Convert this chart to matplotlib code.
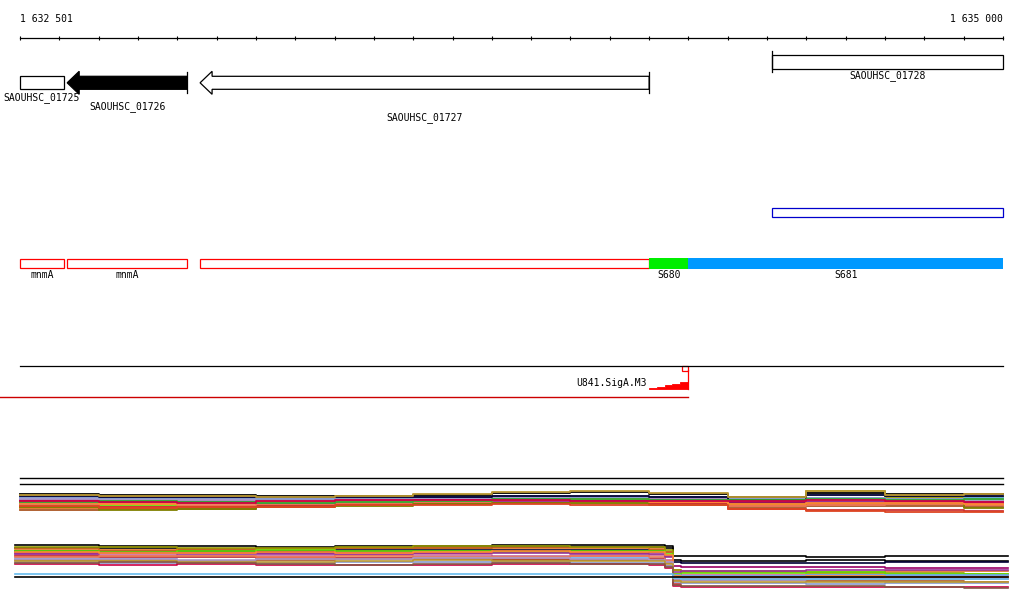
import matplotlib
matplotlib.use("Agg")
import matplotlib.pyplot as plt
from matplotlib.patches import Polygon, Rectangle
import numpy as np

# view: 1 632 501 .. 1 635 000, ruler drawn 20..1003 px
BP = 2500 / 983.0          # bp per pixel
X0 = 1632500 - 20 * BP
X1 = X0 + 1024 * BP

ruler_ticks = list(range(1632500, 1635001, 100))
ruler_labels = ["1 632 501", "1 635 000"]

# CDS track
gene_names = ["SAOUHSC_01725", "SAOUHSC_01726", "SAOUHSC_01727", "SAOUHSC_01728"]
gene_start = [1632500, 1632620, 1632958, 1634412]
gene_end = [1632612, 1632925, 1634100, 1635000]
gene_strand = [0, -1, -1, 1]
gene_fill = ["white", "black", "white", "white"]

# transcription units / RNA segments
tu_names = ["mnmA", "mnmA", "", "S680", "S681"]
tu_start = [1632500, 1632620, 1632958, 1634100, 1634200]
tu_end = [1632612, 1632925, 1634100, 1634200, 1635000]
tu_face = [None, None, None, "#00ee00", "#0099ff"]

# promoter U841.SigA.M3
prom_name = "U841.SigA.M3"
prom_pos = 1634198
ramp_start = 1634100
ramp_h = [1.0, 2.5, 4.0, 5.5, 7.0]

# expression profiles, upper condition group (row level, grid every 200 bp)
up_x = [1632500, 1632700, 1632900, 1633100, 1633300, 1633500, 1633700,
        1633900, 1634100, 1634300, 1634500, 1634700, 1634900, 1635000]
up_vals = [
    [494, 495, 495, 496, 496, 495, 493, 492, 494, 497, 493, 494, 494, 494],
    [508, 507, 506, 506, 505, 504, 503, 503, 503, 505, 504, 504, 505, 505],
    [502, 503, 502, 501, 500, 499, 497, 497, 498, 500, 491, 497, 497, 497],
    [501, 500, 499, 500, 499, 500, 499, 500, 500, 502, 501, 502, 501, 501],
    [498, 499, 499, 498, 498, 499, 498, 498, 497, 499, 498, 499, 498, 498],
    [504, 505, 503, 502, 503, 501, 500, 500, 501, 502, 500, 500, 500, 500],
    [500, 501, 501, 502, 501, 500, 500, 499, 499, 503, 502, 503, 503, 503],
    [510, 509, 509, 506, 505, 503, 502, 502, 504, 507, 506, 506, 507, 507],
    [506, 507, 507, 505, 504, 503, 502, 501, 503, 509, 510, 510, 511, 511],
    [505, 504, 505, 504, 503, 502, 501, 502, 502, 506, 505, 504, 505, 505],
    [499, 500, 500, 500, 499, 498, 497, 498, 499, 501, 500, 500, 501, 501],
    [507, 510, 509, 507, 506, 504, 503, 503, 505, 504, 503, 503, 508, 508],
    [503, 502, 502, 503, 501, 501, 501, 500, 500, 501, 502, 502, 502, 502],
    [497, 498, 498, 499, 498, 497, 496, 497, 497, 499, 498, 499, 499, 499],
    [503, 504, 503, 502, 502, 501, 500, 499, 502, 504, 503, 503, 504, 504],
    [496, 497, 497, 497, 497, 497, 496, 496, 497, 500, 495, 496, 496, 496],
    [502, 501, 502, 503, 502, 501, 499, 499, 500, 500, 499, 500, 499, 499],
    [506, 508, 507, 507, 505, 505, 504, 505, 505, 509, 511, 512, 512, 512],
    [495, 496, 496, 497, 496, 494, 492, 491, 493, 497, 491, 495, 494, 494],
    [501, 502, 503, 501, 500, 500, 500, 501, 501, 501, 500, 501, 502, 502],
]
up_colors = ["black", "#e07020", "#999900", "#cc6699", "#66aaee", "#66dd00",
             "#990066", "#aa5522", "#cc3333", "#ee7755", "#aa99cc", "#808000",
             "#993399", "#8899cc", "#ff8833", "#000033", "#33aa33", "#dd4422",
             "#bb9933", "#cc0044"]

# expression profiles, lower condition group
lo_x = [1632487, 1632700, 1632900, 1633100, 1633300, 1633500, 1633700, 1633900,
        1634100, 1634140, 1634160, 1634180, 1634500, 1634700, 1634900, 1635013]
lo_vals = [
    [545, 546, 546, 547, 546, 546, 545, 545, 545, 546, 556, 556, 557, 556, 556, 556],
    [548, 548, 549, 548, 548, 548, 547, 547, 547, 548, 560, 561, 560, 561, 561, 561],
    [551, 551, 551, 551, 550, 550, 550, 550, 550, 552, 562, 563, 563, 562, 562, 562],
    [549, 550, 549, 549, 548, 548, 548, 548, 549, 552, 570, 572, 572, 571, 571, 571],
    [547, 547, 548, 548, 547, 546, 546, 547, 547, 550, 570, 571, 573, 573, 574, 574],
    [553, 552, 553, 553, 552, 553, 552, 553, 552, 556, 566, 567, 567, 568, 568, 568],
    [555, 555, 556, 556, 555, 555, 556, 556, 555, 560, 574, 575, 575, 576, 576, 576],
    [551, 552, 551, 550, 551, 551, 552, 551, 551, 554, 574, 573, 572, 574, 574, 574],
    [558, 558, 557, 558, 558, 557, 557, 558, 558, 562, 575, 576, 575, 575, 575, 575],
    [556, 557, 557, 558, 558, 559, 559, 560, 559, 566, 584, 578, 578, 577, 577, 577],
    [560, 560, 561, 560, 559, 559, 560, 560, 560, 563, 580, 580, 581, 581, 582, 582],
    [557, 556, 556, 557, 556, 557, 557, 556, 557, 561, 577, 578, 577, 578, 578, 578],
    [562, 563, 562, 563, 562, 562, 562, 563, 563, 566, 582, 583, 584, 583, 583, 583],
    [554, 553, 554, 554, 554, 553, 553, 554, 554, 557, 572, 571, 570, 570, 570, 570],
    [552, 553, 553, 552, 553, 552, 551, 552, 552, 555, 576, 577, 576, 577, 577, 577],
    [564, 565, 564, 565, 565, 565, 564, 564, 565, 568, 586, 587, 587, 587, 587, 587],
    [559, 559, 560, 559, 559, 558, 558, 559, 560, 562, 579, 580, 579, 579, 579, 579],
    [561, 561, 562, 562, 561, 560, 561, 561, 561, 564, 581, 582, 582, 582, 582, 582],
    [563, 562, 563, 564, 565, 564, 563, 564, 564, 567, 585, 586, 586, 587, 588, 588],
    [574, 574, 574, 574, 574, 574, 574, 574, 574, 574, 578, 579, 579, 579, 579, 579],
    [577, 577, 577, 577, 577, 577, 577, 577, 577, 577, 577, 577, 577, 577, 577, 577],
]
lo_colors = ["black", "black", "#000033", "#e07020", "#999900", "#990066",
             "#cc6699", "#66dd00", "#66aaee", "#cc3333", "#aa5522", "#ee7755",
             "#8899cc", "#993399", "#ff8833", "#cc0044", "#aa99cc", "#bb9933",
             "#885544", "#66bbee", "black"]

MONO = "DejaVu Sans Mono"
FS = 7

fig = plt.figure(figsize=(10.24, 6.11), dpi=100)
ax = fig.add_axes([0, 0, 1, 1])
ax.set_xlim(X0, X1)
ax.set_ylim(611, 0)
ax.axis("off")

# ruler
ax.plot([ruler_ticks[0], ruler_ticks[-1]], [38, 38], color="black", lw=0.9)
ax.vlines(ruler_ticks, 36, 40, color="black", lw=0.8)
ax.text(ruler_ticks[0], 19, ruler_labels[0], family=MONO, fontsize=FS, ha="left", va="center")
ax.text(ruler_ticks[-1], 19, ruler_labels[1], family=MONO, fontsize=FS, ha="right", va="center")

# genes
label_rows = [97.5, 106.5, 117.5, 76]
for name, s, e, st, fc, ly in zip(gene_names, gene_start, gene_end, gene_strand, gene_fill, label_rows):
    if st == 1:
        yc = 62
        ax.add_patch(Rectangle((s, yc - 6.8), e - s, 13.6, fc=fc, ec="black", lw=0.9))
        ax.plot([s, s], [yc - 11, yc + 10], color="black", lw=0.9)
    elif st == -1:
        yc = 82.8
        hb = s + 12 * BP
        pts = [(s, yc), (hb, yc - 11.5), (hb, yc - 6.5), (e, yc - 6.5),
               (e, yc + 6.5), (hb, yc + 6.5), (hb, yc + 11.5)]
        ax.add_patch(Polygon(pts, closed=True, fc=fc, ec="black", lw=0.9))
        ax.plot([e, e], [yc - 10.5, yc + 10.5], color="black", lw=0.9)
    else:
        yc = 82.8
        ax.add_patch(Rectangle((s, yc - 6.5), e - s, 13, fc=fc, ec="black", lw=0.9))
    ax.text((s + e) / 2, ly, name, family=MONO, fontsize=FS, ha="center", va="center")

# blue outlined box under SAOUHSC_01728
ax.add_patch(Rectangle((gene_start[3], 208), gene_end[3] - gene_start[3], 9,
                       fc="none", ec="#0000cc", lw=0.9))

# transcription units
for name, s, e, fc in zip(tu_names, tu_start, tu_end, tu_face):
    if fc is None:
        ax.add_patch(Rectangle((s, 258.5), e - s, 9.5, fc="none", ec="#ff0000", lw=0.9))
    else:
        ax.add_patch(Rectangle((s, 258), e - s, 10.5, fc=fc, ec="none"))
    if name:
        ax.text((s + e) / 2, 275, name, family=MONO, fontsize=FS, ha="center", va="center")

# promoter track
ax.plot([ruler_ticks[0], ruler_ticks[-1]], [366, 366], color="black", lw=0.9)
ax.add_patch(Rectangle((prom_pos - 6 * BP, 366), 6 * BP, 4.5, fc="white", ec="#ff0000", lw=0.9))
ramp_pts = [(ramp_start, 389)]
step = (prom_pos - ramp_start) / len(ramp_h)
for i, h in enumerate(ramp_h):
    x_a = ramp_start + i * step
    ramp_pts += [(x_a, 389 - h), (x_a + step, 389 - h)]
ramp_pts += [(prom_pos, 389)]
ax.add_patch(Polygon(ramp_pts, closed=True, fc="#ff0000", ec="#ff0000", lw=0.6))
ax.plot([prom_pos, prom_pos], [370, 389], color="#ff0000", lw=0.9)
ax.text(prom_pos - 41 * BP, 383, prom_name, family=MONO, fontsize=FS, ha="right", va="center")
ax.plot([X0, prom_pos], [397, 397], color="#cc0000", lw=1.0)

# expression tracks
ax.plot([ruler_ticks[0], ruler_ticks[-1]], [478, 478], color="black", lw=1.0)
ax.plot([ruler_ticks[0], ruler_ticks[-1]], [484, 484], color="black", lw=1.0)
for vals, c in zip(up_vals, up_colors):
    ax.plot(up_x, vals, drawstyle="steps-post", color=c, lw=1.3)
for vals, c in zip(lo_vals, lo_colors):
    ax.plot(lo_x, vals, drawstyle="steps-post", color=c, lw=1.2)

fig.savefig("out.png", dpi=100)
